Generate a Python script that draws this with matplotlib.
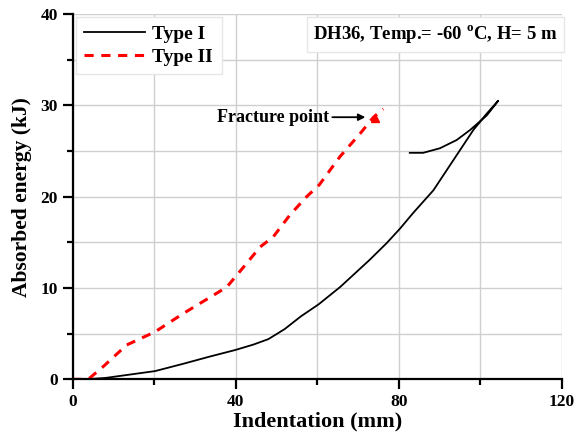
import matplotlib
matplotlib.use("Agg")
import matplotlib.pyplot as plt
import numpy as np

# Type I: loading curve then unloading hook
type1_x = [3.0, 8.0, 13.2, 20.2, 27.1, 33.7, 39.8, 44.3, 48.0, 52.0, 56.0, 60.3,
           65.6, 72.9, 77.0, 80.3, 83.5, 88.5, 93.4, 98.3, 101.6, 104.4,
           101.6, 97.5, 94.2, 90.1, 86.0, 82.7]
type1_y = [0.0, 0.15, 0.47, 0.9, 1.7, 2.5, 3.2, 3.8, 4.4, 5.5, 6.9, 8.2,
           10.1, 13.1, 14.9, 16.5, 18.2, 20.7, 24.0, 27.3, 29.1, 30.5,
           28.9, 27.3, 26.2, 25.3, 24.8, 24.8]

# Type II
type2_x = [0.0, 3.8, 7.5, 13.2, 20.2, 27.1, 34.5, 37.8, 41.0, 46.0, 49.2, 53.3,
           57.4, 60.5, 65.6, 70.5, 73.8, 76.2]
type2_y = [0.0, 0.0, 1.4, 3.75, 5.2, 7.2, 9.2, 10.1, 11.8, 14.5, 15.6, 18.0,
           20.0, 21.3, 24.4, 26.9, 28.7, 29.6]

fracture = (74.2, 28.6)

plt.rcParams["font.family"] = ["Liberation Serif", "DejaVu Serif"]
plt.rcParams["font.weight"] = "bold"
plt.rcParams["mathtext.fontset"] = "custom"
plt.rcParams["mathtext.rm"] = "Liberation Serif"
plt.rcParams["mathtext.bf"] = "Liberation Serif:bold"

fig = plt.figure(figsize=(5.84, 4.47), dpi=100)
ax = fig.add_axes([0.1245, 0.1514, 0.8375, 0.8173])

ax.plot(type1_x, type1_y, color="black", lw=1.3, label="Type I")
ax.plot(type2_x, type2_y, color="red", lw=2.2, ls=(0, (3, 2.5)), label="Type II")
ax.plot([fracture[0]], [fracture[1]], marker="^", color="red", ms=6, ls="none")

ax.annotate("Fracture point", xy=(71.8, 28.7), xytext=(63.0, 28.7),
            fontsize=13, fontweight="bold", ha="right", va="center",
            arrowprops=dict(arrowstyle="-|>", color="black", lw=1.3,
                            mutation_scale=10, shrinkA=0, shrinkB=0))

ax.set_xlim(0, 120)
ax.set_ylim(0, 40)
ax.set_xticks([0, 40, 80, 120])
ax.set_xticks([20, 60, 100], minor=True)
ax.set_yticks([0, 10, 20, 30, 40])
ax.set_yticks([5, 15, 25, 35], minor=True)
ax.grid(True, which="both", color="#cfcfcf", lw=1.0)
ax.set_axisbelow(True)

for s in ["top", "right"]:
    ax.spines[s].set_visible(False)
for s in ["left", "bottom"]:
    ax.spines[s].set_linewidth(1.6)
ax.tick_params(which="major", length=7, width=1.6, labelsize=12.5)
ax.tick_params(which="minor", length=4, width=1.6)
for lab in ax.get_xticklabels() + ax.get_yticklabels():
    lab.set_fontweight("bold")

ax.set_xlabel("Indentation (mm)", fontsize=16, fontweight="bold", labelpad=1)
ax.set_ylabel("Absorbed energy (kJ)", fontsize=15.5, fontweight="bold", labelpad=6)

leg = ax.legend(loc="upper left", fontsize=14, frameon=True, fancybox=False,
                handlelength=3.1, borderaxespad=0.15, labelspacing=0.25,
                handletextpad=0.4, borderpad=0.45)
leg.get_frame().set_edgecolor("#e6e6e6")
leg.get_frame().set_linewidth(1.0)
leg.get_frame().set_alpha(1.0)
for t in leg.get_texts():
    t.set_fontweight("bold")

ax.text(0.992, 0.975, "DH36, Temp.= -60 $^{\\mathbf{o}}$C, H= 5 m",
        transform=ax.transAxes, fontsize=13.5, fontweight="bold",
        ha="right", va="top",
        bbox=dict(boxstyle="square,pad=0.35", fc="white", ec="#e6e6e6", lw=1.0))

fig.savefig("out.png", dpi=100)
